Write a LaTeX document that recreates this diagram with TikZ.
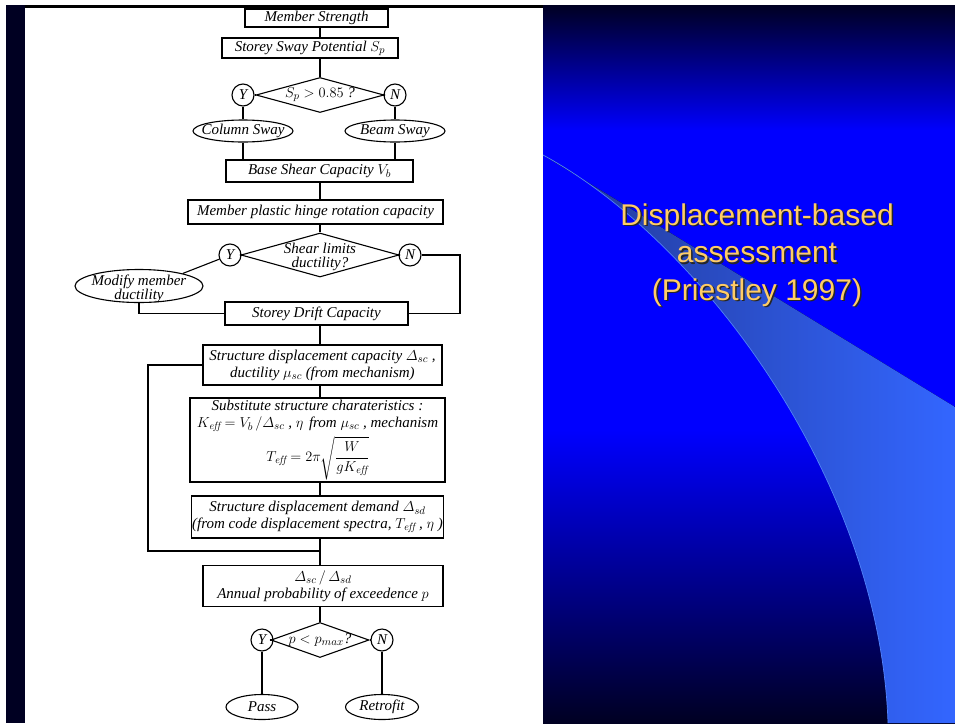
\documentclass[tikz,border=0pt]{standalone}
\usepackage{fontspec}
\usepackage{amsmath}
\usetikzlibrary{shapes.geometric}

\newfontfamily\titlefont{Liberation Sans}
\newfontfamily\flowfont{Liberation Serif}

\definecolor{slidenavy}{RGB}{0,0,34}
\definecolor{slideblue}{RGB}{0,0,255}
\definecolor{swooshdark}{RGB}{34,56,150}
\definecolor{swooshlight}{RGB}{51,102,255}
\definecolor{swooshedge}{RGB}{80,130,255}
\definecolor{titleyellow}{RGB}{255,204,102}

\tikzset{
  box/.style={draw, inner sep=1pt, align=center},
  decision/.style={draw, diamond, inner sep=0pt},
  answer/.style={draw, circle, inner sep=0pt, minimum size=22},
  outcome/.style={draw, ellipse, inner sep=0pt},
  tight/.style={align=center, font=\flowfont\fontsize{15}{13.5}\selectfont\itshape},
  title/.style={align=center, text=titleyellow,
    font=\titlefont\fontsize{30}{37.5}\selectfont},
}

\begin{document}
\begin{tikzpicture}[x=1pt,y=-1pt,line width=1.1pt,
    font=\flowfont\fontsize{15}{17}\selectfont\itshape]

            % The slide background
            \useasboundingbox (0,0) rectangle (955,723);
            \fill[white] (0,0) rectangle (955,723);
            \fill[slidenavy] (6,5) rectangle (25,723);
            \fill[black] (25,5) rectangle (543,7.5);

            % Right half: blue gradient and the light swoosh
            \fill[top color=slidenavy, bottom color=slideblue] (543,5) rectangle (955,131);
            \fill[slideblue] (543,130) rectangle (955,431);
            \fill[top color=slideblue, bottom color=slidenavy] (543,430) rectangle (955,723);
            \fill[left color=swooshdark, right color=swooshlight]
                (543,155) -- (955,407) -- (955,723) -- (888,723)
                .. controls (880,480) and (700,240) .. (543,155) -- cycle;
            \draw[swooshedge, line width=0.7pt]
                (543,155) .. controls (700,240) and (880,480) .. (888,723);

            % Title with its shadow
            \node[title, text=black!85] (titleshade) at (758.5,256.5)
                {Displacement-based\\assessment\\(Priestley 1997)};
            \node[title] (titletext) at (757,255)
                {Displacement-based\\assessment\\(Priestley 1997)};

            % Boxes of the flowchart
            \node[box, minimum width=143, minimum height=18] (ms) at (316.5,18) {Member Strength};
            \node[box, minimum width=176, minimum height=20] (ssp) at (310,48) {Storey Sway Potential $S_p$};
            \node[box, minimum width=187, minimum height=22] (bsc) at (319.5,171) {Base Shear Capacity $V_b$};
            \node[box, minimum width=255, minimum height=24] (mph) at (315.5,212) {Member plastic hinge rotation capacity};
            \node[box, minimum width=183, minimum height=23] (drift) at (316.5,313.5) {Storey Drift Capacity};
            \node[box, minimum width=239, minimum height=40] (cap) at (322.5,365)
                {Structure displacement capacity $\varDelta_{sc}$ ,\\ ductility $\mu_{sc}$ (from mechanism)};
            \node[box, minimum width=255, minimum height=84] (sub) at (317.5,440)
                {Substitute structure charateristics :\\
                 $K_{\mathit{eff}} = V_b\,/\varDelta_{sc}$ , $\eta$\hspace{2pt} from $\mu_{sc}$ , mechanism\\[3pt]
                 $T_{\mathit{eff}} = 2\pi\sqrt{\dfrac{W}{gK_{\mathit{eff}}}}$};
            \node[box, minimum width=245, minimum height=42] (dem) at (317.5,517)
                {Structure displacement demand $\varDelta_{sd}$\\ (from code displacement spectra, $T_{\mathit{eff}}$ , $\eta$ )};
            \node[box, minimum width=240, minimum height=41] (prob) at (323,586)
                {$\varDelta_{sc}\,/\,\varDelta_{sd}$\\ Annual probability of exceedence $p$};

            % Decisions with their Y and N answers
            \node[decision, minimum width=128, minimum height=35,
                label={center:$S_p > 0.85$ ?}] (d1) at (320,95) {};
            \node[decision, minimum width=158, minimum height=44,
                label={[tight, yshift=-2pt]center:Shear limits\\ductility?}] (d2) at (320,255) {};
            \node[decision, minimum width=98, minimum height=35,
                label={center:$p < p_{max}$?}] (d3) at (320,640) {};
            \node[answer] (y1) at (243,95) {Y};
            \node[answer] (n1) at (395,95) {N};
            \node[answer] (y2) at (230,255) {Y};
            \node[answer] (n2) at (410,255) {N};
            \node[answer] (y3) at (262,640) {Y};
            \node[answer] (n3) at (382,640) {N};

            % Outcomes
            \node[outcome, minimum width=100, minimum height=22, label={center:Column Sway}] (colsway) at (243,131) {};
            \node[outcome, minimum width=100, minimum height=22, label={center:Beam Sway}] (beamsway) at (395,131) {};
            \node[outcome, minimum width=128, minimum height=33,
                label={[tight, yshift=-3pt]center:Modify member\\ductility}] (modify) at (139,286) {};
            \node[outcome, minimum width=72, minimum height=25, label={center:Pass}] (pass) at (262,707) {};
            \node[outcome, minimum width=73, minimum height=25, label={center:Retrofit}] (retrofit) at (382,707) {};

            % Main spine (loop)
            \coordinate (spine) at (320,0);
            \foreach \a/\b in {ms/ssp,ssp/d1,bsc/mph,mph/d2,drift/cap,cap/sub,sub/dem,dem/prob,prob/d3}
                \draw (\a.south -| spine) -- (\b.north -| spine);

            % Decisions to answers (loop)
            \foreach \d/\y/\n in {d1/y1/n1,d2/y2/n2,d3/y3/n3} {
                \draw (\d) -- (\y);
                \draw (\d) -- (\n);
            }

            % Branches
            \draw (y1) -- (colsway);
            \draw (n1) -- (beamsway);
            \draw (colsway) -- (colsway |- bsc.north);
            \draw (beamsway) -- (beamsway |- bsc.north);
            \draw (y2) -- (modify.16);
            \draw (modify) |- (drift);
            \coordinate (rturn) at (460,313.5);
            \draw (n2) -| (rturn) -- (drift);
            \coordinate (lturn) at (148,551);
            \coordinate (ljoin) at (320,551);
            \draw (cap) -| (lturn) -- (ljoin);
            \draw (y3) -- (pass);
            \draw (n3) -- (retrofit);

\end{tikzpicture}
\end{document}
